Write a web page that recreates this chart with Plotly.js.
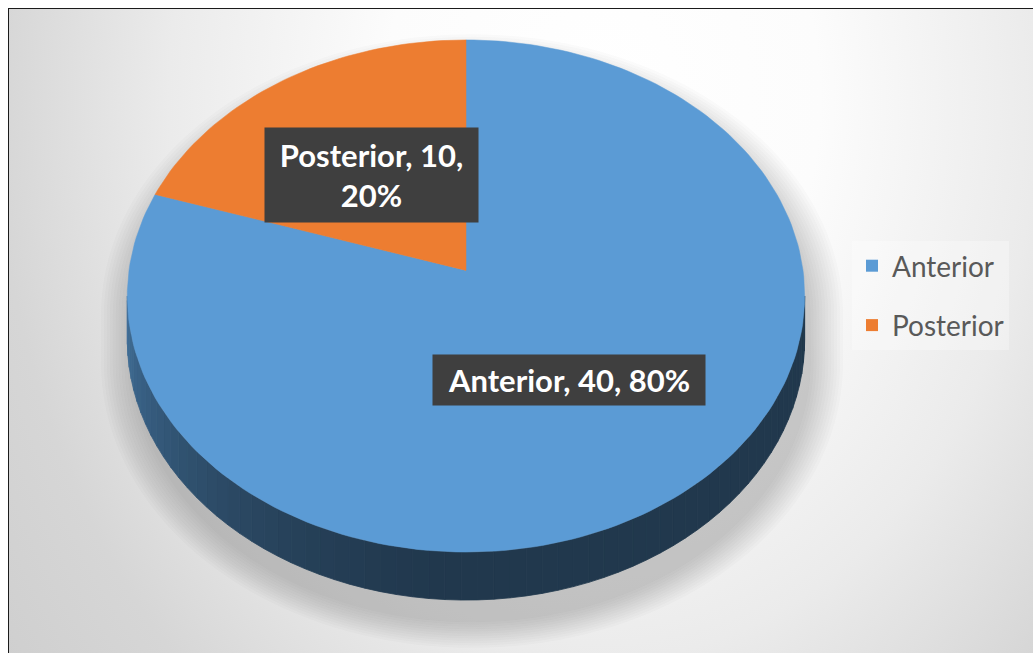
<!DOCTYPE html>
<html>
<head>
<meta charset="utf-8">
<script src="https://cdn.plot.ly/plotly-3.0.1.min.js"></script>
<style>
  html, body { margin: 0; padding: 0; width: 1033px; height: 653px; overflow: hidden; background: #ffffff; }
  #frame {
    position: absolute; left: 8px; top: 8px; width: 1025px; height: 645px;
    box-sizing: border-box;
    border-left: 1.5px solid #1b1b1b; border-top: 1.5px solid #1b1b1b;
    background: radial-gradient(ellipse 620px 800px at 58% 14%,
      #ffffff 0%, #fcfcfc 35%, #ebebeb 70%, #d6d6d6 98%, #cdcdcd 125%);
  }
  #chart { position: absolute; left: 0; top: 0; width: 1033px; height: 653px; }
</style>
</head>
<body>
<div id="frame"></div>
<div id="chart"></div>
<script>
// ---- data ----
const categories = ['Anterior', 'Posterior'];
const counts = [40, 10];
const sliceColors = ['#5B9BD5', '#ED7D31'];

// ---- 3D pie geometry (pixel space, perspective tilt) ----
const W = 1033, H = 653;
const cx = 466, cy = 270.4;      // projected centre of the top face
const RX = 337, RY = 253.5;      // projected radii
const PERSP = 0.1;               // perspective strength (front looks larger)
const DEPTH = 43.2;              // wall thickness
const deg = Math.PI / 180;

// angle t is measured clockwise from 12 o'clock, r is the radial fraction
function topPoint(t, r) {
  const X = r * Math.sin(t * deg), Z = -r * Math.cos(t * deg);
  const d = 1 - PERSP * Z;
  return [cx + RX * X / d, cy + RY * Z / d, d];
}
function bottomPoint(t) {
  const p = topPoint(t, 1);
  return [p[0], p[1] + DEPTH / p[2]];
}
// the wall is only visible between the two silhouette tangents
const tanT = Math.acos(-PERSP) / deg;          // ~95.7 deg
const wallFrom = tanT, wallTo = 360 - tanT;

function hexToRgb(h) {
  const n = parseInt(h.slice(1), 16);
  return [(n >> 16) & 255, (n >> 8) & 255, n & 255];
}
function shade(hex, f) {
  const c = hexToRgb(hex).map(v => Math.round(v * f));
  return `rgb(${c[0]},${c[1]},${c[2]})`;
}
// wall lighting: lit from the left, dark towards the front and right
function wallFactor(t) {
  if (t <= 180) return 0.36;
  const u = Math.min(1, (t - 180) / (wallTo - 180));
  return 0.36 + 0.36 * Math.pow(u, 1.6);
}

const total = counts.reduce((a, b) => a + b, 0);
const starts = [];
let acc = 0;
counts.forEach(v => { starts.push(acc / total * 360); acc += v; });

const traces = [];

// ---- soft drop shadow under the whole pie ----
function silhouette() {
  const pts = [];
  for (let t = wallTo; t <= 360 + wallFrom + 1e-9; t += 2) pts.push(topPoint(t % 360, 1));
  for (let t = wallFrom; t <= wallTo + 1e-9; t += 2) pts.push(bottomPoint(t));
  return pts;
}
const sil = silhouette();
const shCx = cx, shCy = 330, shDx = 6, shDy = 22;
for (let k = 11; k >= 0; k--) {
  const s = 1 + (k * 2.6) / 300;
  traces.push({
    type: 'scatter', mode: 'none', fill: 'toself',
    fillcolor: 'rgba(50,50,50,0.02)',
    x: sil.map(p => shCx + (p[0] - shCx) * s + shDx),
    y: sil.map(p => shCy + (p[1] - shCy) * s + shDy),
    hoverinfo: 'skip', showlegend: false
  });
}

// ---- side wall strips ----
categories.forEach((cat, i) => {
  const t0 = Math.max(starts[i], wallFrom);
  const t1 = Math.min(starts[i] + counts[i] / total * 360, wallTo);
  if (t1 <= t0) return;
  const step = 2.5;
  for (let a = t0; a < t1 - 1e-9; a += step) {
    const b = Math.min(a + step, t1);
    const p1 = topPoint(a, 1), p2 = topPoint(b, 1);
    const q2 = bottomPoint(b), q1 = bottomPoint(a);
    const col = shade(sliceColors[i], wallFactor((a + b) / 2));
    traces.push({
      type: 'scatter', mode: 'lines', fill: 'toself',
      x: [p1[0], p2[0], q2[0], q1[0], p1[0]],
      y: [p1[1], p2[1], q2[1], q1[1], p1[1]],
      fillcolor: col, line: { color: col, width: 0.8 },
      hoverinfo: 'skip', showlegend: false
    });
  }
});

// ---- top face slices ----
categories.forEach((cat, i) => {
  const t0 = starts[i], t1 = starts[i] + counts[i] / total * 360;
  const xs = [cx], ys = [cy];
  const n = Math.max(8, Math.ceil((t1 - t0) / 1.5));
  for (let k = 0; k <= n; k++) {
    const p = topPoint(t0 + (t1 - t0) * k / n, 1);
    xs.push(p[0]); ys.push(p[1]);
  }
  xs.push(cx); ys.push(cy);
  traces.push({
    type: 'scatter', mode: 'lines', fill: 'toself',
    x: xs, y: ys, fillcolor: sliceColors[i],
    line: { color: sliceColors[i], width: 0.5 },
    name: cat, hoverinfo: 'name', showlegend: false
  });
});

// ---- legend entries ----
categories.forEach((cat, i) => {
  traces.push({
    type: 'scatter', mode: 'markers', x: [null], y: [null],
    name: cat, legendgroup: cat,
    marker: { symbol: 'square', size: 13, color: sliceColors[i] },
    hoverinfo: 'skip'
  });
});

// ---- data labels: "category, value, percent" ----
const labelBoxes = [
  { x: 569, y: 380, w: 258, h: 36, wrap: false },
  { x: 371.5, y: 175, w: 199, h: 80, wrap: true }
];
const annotations = categories.map((cat, i) => {
  const pct = Math.round(counts[i] / total * 100);
  const txt = `${cat}, ${counts[i]},` + (labelBoxes[i].wrap ? '<br>' : ' ') + `${pct}%`;
  return {
    x: labelBoxes[i].x, y: labelBoxes[i].y, xref: 'x', yref: 'y',
    text: txt, showarrow: false,
    width: labelBoxes[i].w, height: labelBoxes[i].h,
    borderpad: 7, bgcolor: '#3f3f3f', align: 'center', valign: 'middle',
    font: { family: 'Lato, "Open Sans", sans-serif', size: 31, color: '#ffffff', weight: 700 }
  };
});

const layout = {
  width: W, height: H,
  margin: { l: 0, r: 0, t: 0, b: 0, pad: 0 },
  paper_bgcolor: 'rgba(0,0,0,0)', plot_bgcolor: 'rgba(0,0,0,0)',
  xaxis: { range: [0, W], visible: false, fixedrange: true },
  yaxis: { range: [H, 0], visible: false, fixedrange: true },
  showlegend: true,
  legend: {
    x: 852 / W, y: 1 - 241 / H, xanchor: 'left', yanchor: 'top',
    bgcolor: 'rgba(255,255,255,0.3)', borderwidth: 0,
    font: { family: 'Lato, "Open Sans", sans-serif', size: 28, color: '#595959' },
    tracegroupgap: 20, itemsizing: 'constant', traceorder: 'grouped',
    itemclick: false, itemdoubleclick: false
  },
  annotations: annotations,
  hovermode: false
};

Plotly.newPlot('chart', traces, layout, { staticPlot: true, displayModeBar: false });
</script>
</body>
</html>
